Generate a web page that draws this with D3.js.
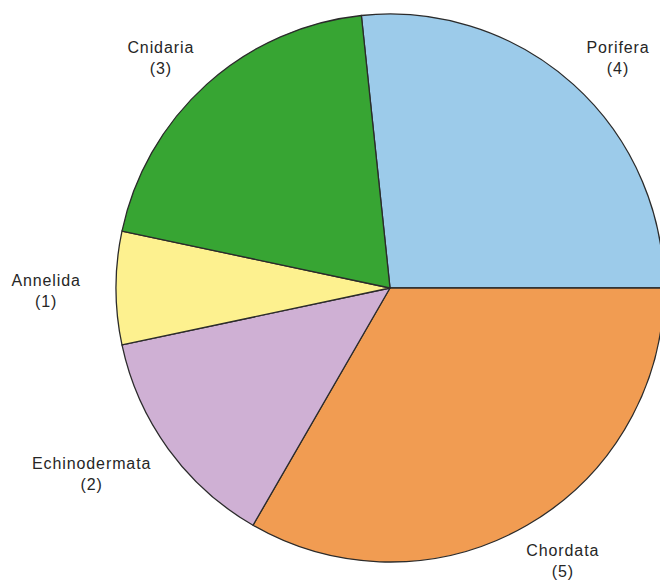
<!DOCTYPE html>
<html>
<head>
<meta charset="utf-8">
<script src="https://cdn.jsdelivr.net/npm/d3@7"></script>
<style>
  body { margin: 0; background: #ffffff; }
  svg { display: block; }
</style>
</head>
<body>
<div id="chart"></div>
<script>
// phyla, in clockwise order starting just left of 12 o'clock
const phyla = ["Porifera", "Chordata", "Echinodermata", "Annelida", "Cnidaria"];
const counts = [4, 5, 2, 1, 3];
const colors = ["#9ccbea", "#f19c52", "#cfb0d4", "#fdf18f", "#37a533"];

const width = 660, height = 585;
const cx = 390, cy = 288, radius = 274;

const svg = d3.select("#chart")
  .append("svg")
  .attr("width", width)
  .attr("height", height);

const g = svg.append("g")
  .attr("transform", `translate(${cx},${cy})`);

const data = phyla.map((name, i) => ({ name: name, value: counts[i], color: colors[i] }));

const pie = d3.pie()
  .value(d => d.value)
  .sort(null)
  .startAngle(-6 * Math.PI / 180)
  .endAngle(354 * Math.PI / 180);

const arc = d3.arc().innerRadius(0).outerRadius(radius);

const arcs = pie(data);

g.selectAll("path")
  .data(arcs)
  .enter()
  .append("path")
  .attr("d", arc)
  .style("fill", d => d.data.color)
  .style("stroke", "#2b2b2b")
  .style("stroke-width", 1.3)
  .style("stroke-linejoin", "round");

// labels pushed outward so the text box sits outside the rim
const labelR = 298;
const lineH = 21;

const labels = g.selectAll(".label")
  .data(arcs)
  .enter()
  .append("text")
  .attr("class", "label")
  .style("font-family", "'Liberation Sans', Arial, sans-serif")
  .style("font-size", "16px")
  .style("letter-spacing", "0.9px")
  .style("fill", "#262626")
  .attr("text-anchor", "middle");

labels.append("tspan").text(d => d.data.name);
labels.append("tspan").text(d => "(" + d.data.value + ")");

labels.each(function (d) {
  const a = (d.startAngle + d.endAngle) / 2;
  const sx = Math.sin(a), sy = -Math.cos(a);
  const txt = d3.select(this);
  const w = this.getBBox().width;
  const h = lineH + 8;
  const x = labelR * sx + sx * w / 2;
  const y = labelR * sy + sy * h / 2;
  txt.selectAll("tspan")
    .attr("x", x)
    .attr("y", (p, i) => y - lineH / 2 + 8 + i * lineH);
});
</script>
</body>
</html>
